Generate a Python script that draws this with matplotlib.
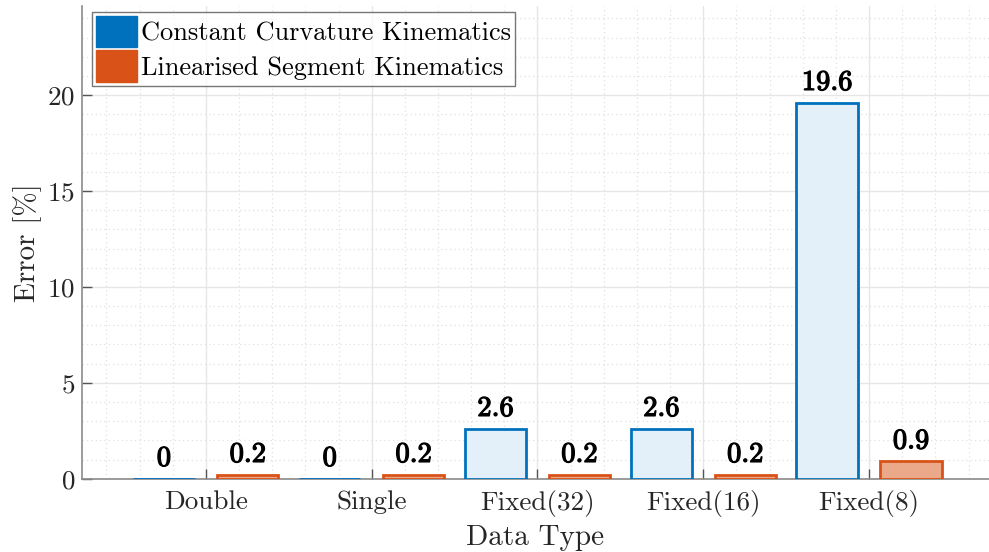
import matplotlib
matplotlib.use("Agg")
import matplotlib.pyplot as plt
import matplotlib.patheffects as pe
import numpy as np
from matplotlib.ticker import MultipleLocator
from matplotlib.patches import Patch

categories = ["Double", "Single", "Fixed(32)", "Fixed(16)", "Fixed(8)"]
cc_values = [0.0, 0.0, 2.6, 2.6, 19.6]
ls_values = [0.2, 0.2, 0.2, 0.2, 0.9]
cc_labels = ["0", "0", "2.6", "2.6", "19.6"]
ls_labels = ["0.2", "0.2", "0.2", "0.2", "0.9"]
series_names = ["Constant Curvature Kinematics", "Linearised Segment Kinematics"]

plt.rcParams["font.family"] = ["cmr10", "DejaVu Serif"]
plt.rcParams["axes.formatter.use_mathtext"] = True
plt.rcParams["mathtext.fontset"] = "cm"

blue = "#0072BD"
orange = "#D95319"
blue_face = "#E3F0F9"
orange_face = "#EBA98A"

fig = plt.figure(figsize=(9.89, 5.52), dpi=100)
ax = fig.add_axes([82/989, 1 - 478.7/552, (989 - 82)/989, (478.7 - 6)/552])

x = np.arange(1, len(categories) + 1)
w = 0.37
off = 0.253

ax.bar(x - off, cc_values, width=w, facecolor=blue_face, edgecolor=blue, linewidth=2, zorder=3)
ax.bar(x + off, ls_values, width=w, facecolor=orange_face, edgecolor=orange, linewidth=2, zorder=3)

bold = [pe.withStroke(linewidth=0.9, foreground="black")]
for xi, v, t in zip(x - off, cc_values, cc_labels):
    ax.annotate(t, (xi, v), xytext=(0, 5), textcoords="offset points", ha="center", va="bottom",
                fontsize=20.5, color="black", path_effects=bold, zorder=4)
for xi, v, t in zip(x + off, ls_values, ls_labels):
    ax.annotate(t, (xi, v), xytext=(0, 5), textcoords="offset points", ha="center", va="bottom",
                fontsize=20.5, color="black", path_effects=bold, zorder=4)

ax.set_xlim(0.253, 5.723)
ax.set_ylim(0, 24.65)
ax.set_xticks(x)
ax.set_xticklabels(categories)
ax.set_yticks([0, 5, 10, 15, 20])
ax.xaxis.set_minor_locator(MultipleLocator(0.2))
ax.yaxis.set_minor_locator(MultipleLocator(1))

ax.grid(True, which="major", color="#E6E6E6", linewidth=1, zorder=0)
ax.grid(True, which="minor", color="#E0E0E0", linewidth=0.9, linestyle=(0, (1, 2.5)), zorder=0)
ax.set_axisbelow(True)

for s in ["top", "right"]:
    ax.spines[s].set_visible(False)
for s in ["left", "bottom"]:
    ax.spines[s].set_color("#8A8A8A")
    ax.spines[s].set_linewidth(1.2)

ax.tick_params(which="major", direction="in", length=7, width=1, color="#555555",
               labelsize=19.5, labelcolor="#262626")
ax.tick_params(axis="y", which="major", pad=5)
ax.tick_params(axis="x", which="major", pad=8)
ax.tick_params(which="minor", length=0)

ax.set_xlabel("Data Type", fontsize=21, color="#262626", labelpad=6)
ax.set_ylabel("Error [%]", fontsize=21, color="#262626", labelpad=3.5)

handles = [Patch(facecolor=blue, edgecolor=blue), Patch(facecolor=orange, edgecolor=orange)]
leg = ax.legend(handles, series_names, loc="upper left", bbox_to_anchor=(10/907, 1 - 6/472.7),
                fontsize=19, frameon=True, fancybox=False, edgecolor="#555555",
                handlelength=1.55, handleheight=1.45, handletextpad=0.15, borderpad=0.15,
                labelspacing=0.12, borderaxespad=0)
leg.get_frame().set_linewidth(1.0)
leg.set_zorder(5)

fig.savefig("out.png", dpi=100, facecolor="white")
